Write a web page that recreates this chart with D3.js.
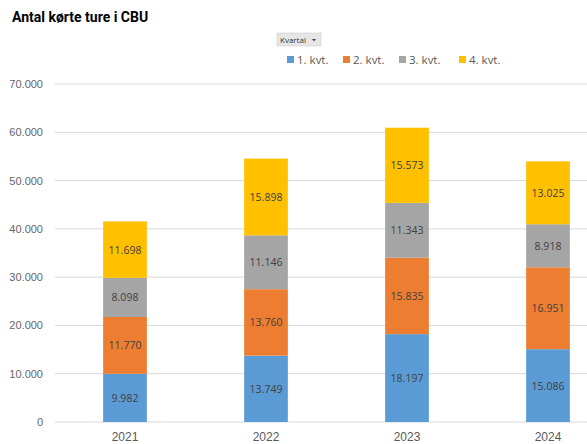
<!DOCTYPE html>
<html><head><meta charset="utf-8">
<script src="https://cdn.jsdelivr.net/npm/d3@7"></script>
<style>body{margin:0;background:#fff;}svg{display:block;font-family:"Open Sans","DejaVu Sans",sans-serif;}</style>
</head><body>
<svg id="c" width="587" height="444"></svg>
<script>
const years = ["2021","2022","2023","2024"];
const seriesNames = ["1. kvt.","2. kvt.","3. kvt.","4. kvt."];
const q1 = [9982,13749,18197,15086];
const q2 = [11770,13760,15835,16951];
const q3 = [8098,11146,11343,8918];
const q4 = [11698,15898,15573,13025];
const yTicks = [0,10000,20000,30000,40000,50000,60000,70000];
const colors = ["#5B9BD5","#ED7D31","#A5A5A5","#FFC000"];

const svg = d3.select("#c");
const x = d3.scaleBand().domain(years).range([54.5,618.5]).paddingInner(0.69).paddingOuter(0.345);
const y = d3.scaleLinear().domain([0,70000]).range([422,84]);
const fmt = v => d3.format(",")(v).replace(/,/g,".");

// grid
svg.append("g").selectAll("line").data(yTicks).join("line")
  .attr("x1",55).attr("x2",587).attr("y1",d=>y(d)).attr("y2",d=>y(d))
  .attr("stroke","#d9d9d9").attr("stroke-width",1);
// y axis labels
const yAxis = d3.axisLeft(y).tickValues(yTicks).tickFormat(fmt).tickSize(0).tickPadding(0);
const ya = svg.append("g").attr("transform","translate(43,0)").call(yAxis);
ya.select(".domain").remove();
ya.selectAll("text").attr("fill","#666").style("font-size","11px");

// x axis
const xAxis = d3.axisBottom(x).tickSize(0).tickPadding(0);
const xa = svg.append("g").attr("transform","translate(0,432)").call(xAxis);
xa.select(".domain").remove();
xa.selectAll("text").attr("fill","#595959").style("font-size","12px");

// stacked data
const rows = years.map((yr,i)=>({year:yr, s0:q1[i], s1:q2[i], s2:q3[i], s3:q4[i]}));
const stack = d3.stack().keys(["s0","s1","s2","s3"])(rows);
const layers = svg.append("g").selectAll("g").data(stack).join("g").attr("fill",(d,i)=>colors[i]);
layers.selectAll("rect").data(d=>d).join("rect")
  .attr("x",d=>x(d.data.year)).attr("width",x.bandwidth())
  .attr("y",d=>y(d[1])).attr("height",d=>y(d[0])-y(d[1]));
const lbl = svg.append("g").selectAll("g").data(stack).join("g");
lbl.selectAll("text").data(d=>d.map(v=>({v, val:v[1]-v[0]}))).join("text")
  .attr("x",d=>x(d.v.data.year)+x.bandwidth()/2)
  .attr("y",d=>y((d.v[0]+d.v[1])/2)+4)
  .attr("text-anchor","middle").attr("fill","#404040").style("font-size","10.5px")
  .text(d=>fmt(d.val));

// title
svg.append("text").attr("x",12).attr("y",22).text("Antal kørte ture i CBU")
  .attr("fill","#000").style("font-size","14px").style("font-weight","bold")
  .style("font-family","Roboto,'Open Sans',sans-serif");

// filter button
const btn = svg.append("g").attr("transform","translate(277,33)");
btn.append("rect").attr("width",44).attr("height",13).attr("fill","#e6e6e6").attr("stroke","#c8c8c8").attr("stroke-width",0.5);
btn.append("text").attr("x",3).attr("y",10).text("Kvartal").style("font-size","8px").attr("fill","#333");
btn.append("path").attr("d","M35,6 L39,6 L37,8.5 Z").attr("fill","#444");

// legend
const legX = [287,343,399,459];
const leg = svg.append("g").selectAll("g").data(seriesNames).join("g")
  .attr("transform",(d,i)=>`translate(${legX[i]},55)`);
leg.append("rect").attr("width",7).attr("height",7).attr("y",1).attr("fill",(d,i)=>colors[i]);
leg.append("text").attr("x",10).attr("y",9).text(d=>d).style("font-size","11.5px").attr("fill","#595959");
</script>
</body></html>
